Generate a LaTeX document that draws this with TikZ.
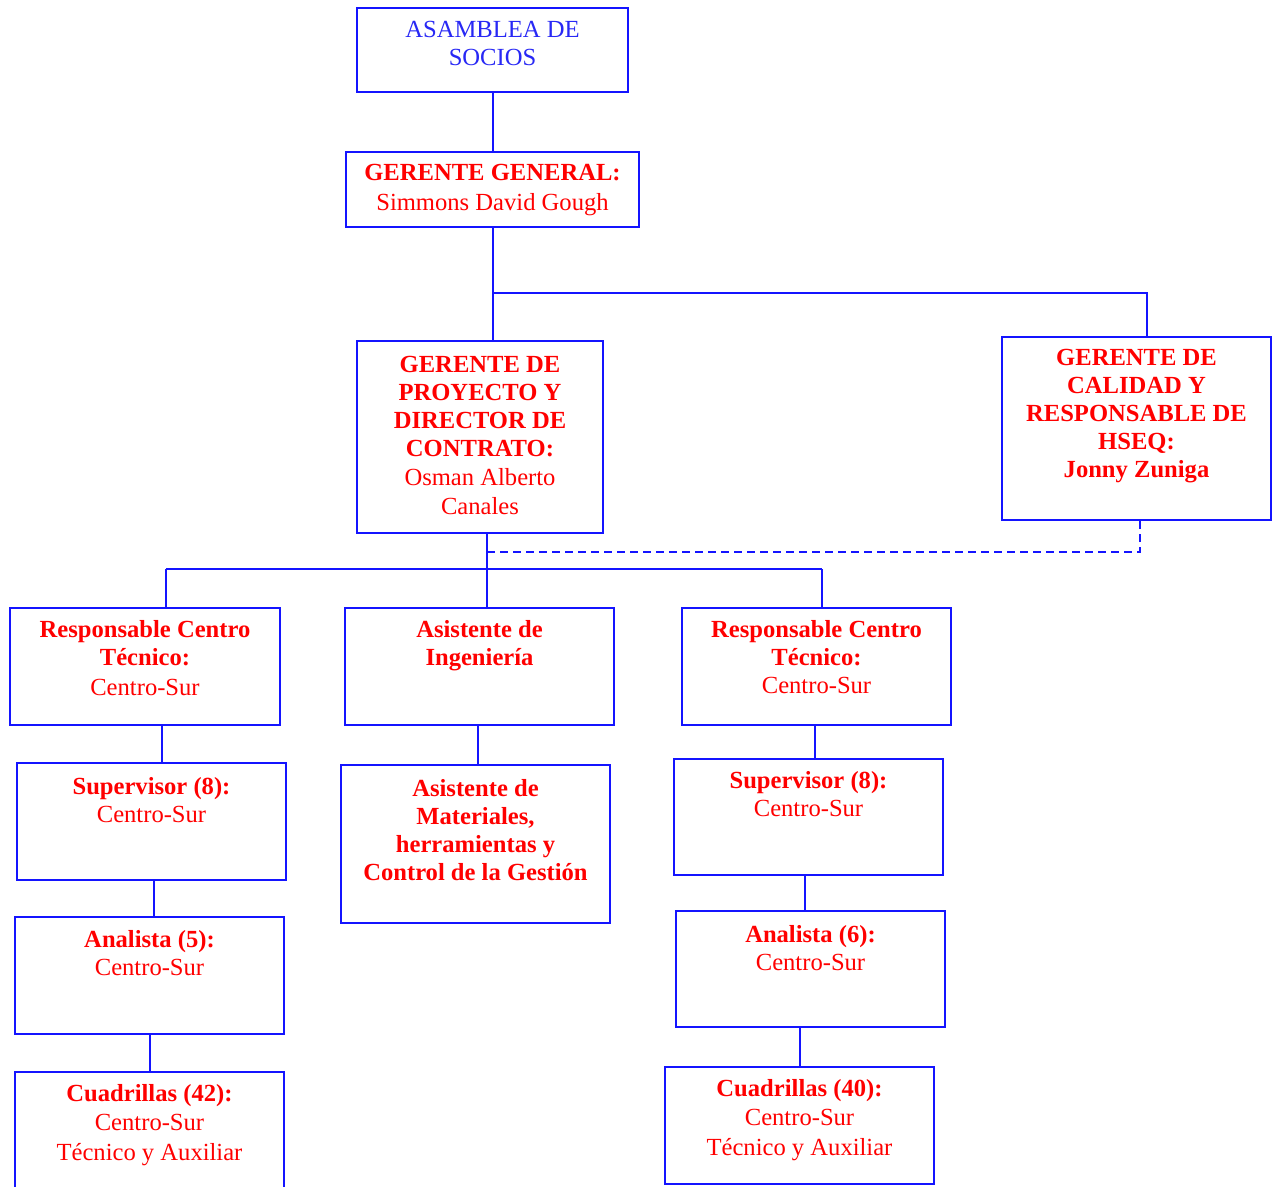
\documentclass[tikz,border=0pt]{standalone}
\usepackage{fontspec}
\setmainfont{Liberation Serif}
\definecolor{lnblue}{RGB}{20,20,255}
\definecolor{txblue}{RGB}{40,40,245}
\definecolor{txred}{RGB}{255,0,0}
\begin{document}
\begin{tikzpicture}[x=1pt,y=-1pt,
  box/.style={draw=lnblue, line width=2pt, inner sep=0pt, outer sep=0pt, anchor=north west, rectangle},
  txt/.style={text=txred, align=center, inner sep=0pt, anchor=north, font=\fontsize{24.6}{28}\selectfont},
  ln/.style={draw=lnblue, line width=2pt},
  dsh/.style={draw=lnblue, line width=2pt, dash pattern=on 8pt off 5pt}]
\useasboundingbox (0,0) rectangle (1274,1186);
\clip (0,0) rectangle (1274,1186);
\fill[white] (0,0) rectangle (1274,1186);

% boxes
\node[box, minimum width=271pt, minimum height=84pt] (asam) at (357,8) {};
\node[box, minimum width=293pt, minimum height=75pt] (gg) at (346,152) {};
\node[box, minimum width=246pt, minimum height=192pt] (proy) at (357,341) {};
\node[box, minimum width=269pt, minimum height=183pt] (cal) at (1002,337) {};
\node[box, minimum width=270pt, minimum height=117pt] (rctl) at (10,608) {};
\node[box, minimum width=269pt, minimum height=117pt] (asing) at (345,608) {};
\node[box, minimum width=269pt, minimum height=117pt] (rctr) at (682,608) {};
\node[box, minimum width=269pt, minimum height=117pt] (supl) at (17,763) {};
\node[box, minimum width=269pt, minimum height=158pt] (asmat) at (341,765) {};
\node[box, minimum width=269pt, minimum height=116pt] (supr) at (674,759) {};
\node[box, minimum width=269pt, minimum height=117pt] (anl) at (15,917) {};
\node[box, minimum width=269pt, minimum height=116pt] (anr) at (676,911) {};
\node[box, minimum width=269pt, minimum height=140pt] (cul) at (15,1072) {};
\node[box, minimum width=269pt, minimum height=117pt] (cur) at (665,1067) {};

% texts
\node[txt, text=txblue] (asamT) at ([yshift=-10pt]asam.north) {\strut ASAMBLEA DE\\SOCIOS};
\node[txt] (ggT) at ([yshift=-9pt]gg.north) {\strut\textbf{GERENTE GENERAL:}\\[2pt]Simmons David Gough};
\node[txt] (proyT) at ([yshift=-12pt]proy.north) {\strut\textbf{GERENTE DE}\\\textbf{PROYECTO Y}\\\textbf{DIRECTOR DE}\\\textbf{CONTRATO:}\\[1pt]Osman Alberto\\[1pt]Canales};
\node[txt] (calT) at ([yshift=-9pt]cal.north) {\strut\textbf{GERENTE DE}\\\textbf{CALIDAD Y}\\\textbf{RESPONSABLE DE}\\\textbf{HSEQ:}\\\textbf{Jonny Zuniga}};
\node[txt] (rctlT) at ([yshift=-10pt]rctl.north) {\strut\textbf{Responsable Centro}\\\textbf{Técnico:}\\[2pt]Centro-Sur};
\node[txt] (asingT) at ([yshift=-10pt]asing.north) {\strut\textbf{Asistente de}\\\textbf{Ingeniería}};
\node[txt] (rctrT) at ([yshift=-10pt]rctr.north) {\strut\textbf{Responsable Centro}\\\textbf{Técnico:}\\Centro-Sur};
\node[txt] (suplT) at ([yshift=-12pt]supl.north) {\strut\textbf{Supervisor (8):}\\Centro-Sur};
\node[txt] (asmatT) at ([yshift=-12pt]asmat.north) {\strut\textbf{Asistente de}\\\textbf{Materiales,}\\\textbf{herramientas y}\\\textbf{Control de la Gestión}};
\node[txt] (suprT) at ([yshift=-10pt]supr.north) {\strut\textbf{Supervisor (8):}\\Centro-Sur};
\node[txt] (anlT) at ([yshift=-11pt]anl.north) {\strut\textbf{Analista (5):}\\Centro-Sur};
\node[txt] (anrT) at ([yshift=-12pt]anr.north) {\strut\textbf{Analista (6):}\\Centro-Sur};
\node[txt] (culT) at ([yshift=-10pt]cul.north) {\strut\textbf{Cuadrillas (42):}\\[1pt]Centro-Sur\\[2pt]Técnico y Auxiliar};
\node[txt] (curT) at ([yshift=-10pt]cur.north) {\strut\textbf{Cuadrillas (40):}\\[1pt]Centro-Sur\\[2pt]Técnico y Auxiliar};

% junction coordinates
\coordinate (j1) at (493,293);
\coordinate (j1r) at (1147,293);
\coordinate (j2) at (487,569);
\coordinate (j2l) at (166,569);
\coordinate (j2r) at (822,569);
\coordinate (d1) at (487,552);
\coordinate (d2) at (1140,552);

% connectors
\draw[ln] (asam.south) -- (gg.north);
\draw[ln] (j1 |- gg.south) -- (j1) -- (j1r) -- (j1r |- cal.north);
\draw[ln] (j1) -- (j1 |- proy.north);
\draw[ln] (j2 |- proy.south) -- (j2 |- asing.north);
\draw[ln] (j2l) -- (j2r);
\draw[ln] (j2l) -- (j2l |- rctl.north);
\draw[ln] (j2r) -- (j2r |- rctr.north);
\draw[dsh] (d1) -- (d2) -- (d2 |- cal.south);
\draw[ln] (162,0 |- rctl.south) -- (162,0 |- supl.north);
\draw[ln] (478,0 |- asing.south) -- (478,0 |- asmat.north);
\draw[ln] (815,0 |- rctr.south) -- (815,0 |- supr.north);
\draw[ln] (154,0 |- supl.south) -- (154,0 |- anl.north);
\draw[ln] (805,0 |- supr.south) -- (805,0 |- anr.north);
\draw[ln] (150,0 |- anl.south) -- (150,0 |- cul.north);
\draw[ln] (800,0 |- anr.south) -- (800,0 |- cur.north);
\end{tikzpicture}
\end{document}
